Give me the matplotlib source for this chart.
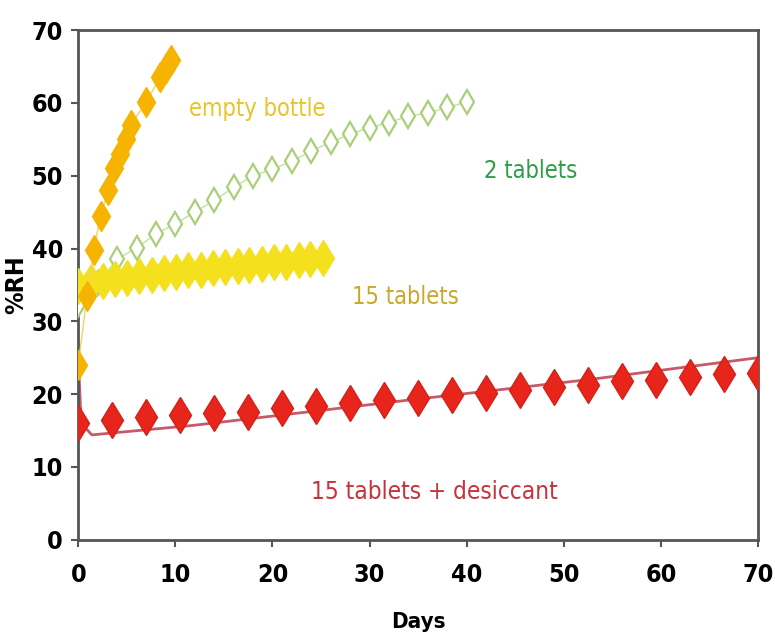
import matplotlib
matplotlib.use("Agg")
import matplotlib.pyplot as plt

plt.rcParams['font.family'] = ['DejaVu Sans']
plt.rcParams['font.stretch'] = 'condensed'

# empty bottle (orange filled diamonds)
empty_days = [0, 0.9, 1.6, 2.3, 3.1, 3.7, 4.3, 4.9, 5.4, 7.0, 8.4, 9.0, 9.5]
empty_rh = [24, 33.5, 39.8, 44.5, 48.1, 51.0, 53.0, 55.0, 57.0, 60.1, 63.5, 64.8, 65.9]

# 2 tablets (open green diamonds)
two_days = [0, 2, 4, 6, 8, 10, 12, 14, 16, 18, 20, 22, 24, 26, 28, 30, 32, 34, 36, 38, 40]
two_rh = [32.2, 35.3, 38.5, 40.1, 42.0, 43.4, 45.0, 46.6, 48.4, 50.0, 50.9, 52.0,
          53.4, 54.6, 55.7, 56.6, 57.3, 58.2, 58.6, 59.4, 60.1]

# 15 tablets (yellow filled diamonds)
t15_days = [0, 1.3, 2.5, 3.8, 5.0, 6.3, 7.6, 8.8, 10.1, 11.3, 12.6, 13.9, 15.1,
            16.4, 17.6, 18.9, 20.2, 21.4, 22.7, 23.9, 25.2]
t15_rh = [34.8, 35.4, 35.6, 35.8, 36.0, 36.2, 36.4, 36.6, 36.8, 37.0, 37.1, 37.3,
          37.4, 37.6, 37.8, 37.9, 38.1, 38.2, 38.4, 38.5, 38.7]

# 15 tablets + desiccant (red diamonds, every 3.5 days)
des_days = [0, 3.5, 7, 10.5, 14, 17.5, 21, 24.5, 28, 31.5, 35, 38.5, 42, 45.5, 49,
            52.5, 56, 59.5, 63, 66.5, 70]
des_rh = [16.0, 16.5, 16.9, 17.1, 17.4, 17.6, 18.1, 18.4, 18.8, 19.2, 19.5, 19.9,
          20.2, 20.6, 21.0, 21.3, 21.8, 22.0, 22.4, 22.7, 22.9]

# fitted curve under the red points
fit_days = [0, 0.3, 1.4, 11.8, 34.8, 52.6, 70]
fit_rh = [25.0, 16.0, 14.4, 15.7, 19.3, 22.0, 25.0]

fig = plt.figure(figsize=(7.75, 6.41), dpi=100)
ax = fig.add_axes([0.101, 0.158, 0.877, 0.795])

ax.plot(fit_days, fit_rh, color='#c65a68', lw=2, zorder=2)
ax.plot(two_days, two_rh, color='#c5e0a0', lw=1, marker='d', ms=12,
        mfc='white', mec='#a9cf7a', mew=1.6, zorder=3)
ax.plot(t15_days, t15_rh, color='#f4e01c', lw=1, marker='d', ms=18,
        mfc='#f4e01c', mec='#f4e01c', zorder=4)
ax.plot(empty_days, empty_rh, color='#f8d060', lw=1, marker='d', ms=15,
        mfc='#f6b400', mec='#f6b400', zorder=5)
ax.plot(des_days, des_rh, linestyle='none', marker='d', ms=18,
        mfc='#e8251a', mec='#d42018', zorder=6)

ax.text(18.4, 59.2, 'empty bottle', color='#e6c42a', fontsize=17, ha='center', va='center')
ax.text(46.6, 50.6, '2 tablets', color='#2e9e46', fontsize=17, ha='center', va='center')
ax.text(33.7, 33.4, '15 tablets', color='#c9a82a', fontsize=17, ha='center', va='center')
ax.text(36.7, 6.6, '15 tablets + desiccant', color='#c8323c', fontsize=17.5,
        ha='center', va='center')

ax.set_xlim(0, 70)
ax.set_ylim(0, 70)
ax.set_xticks(range(0, 71, 10))
ax.set_yticks(range(0, 71, 10))
ax.tick_params(direction='out', length=5, width=1.5, color='#555555',
               labelsize=18)
ax.tick_params(axis='x', pad=12)
ax.tick_params(axis='y', pad=6)
for lab in ax.get_xticklabels() + ax.get_yticklabels():
    lab.set_fontweight('bold')
for s in ax.spines.values():
    s.set_color('#555555')
    s.set_linewidth(2)

ax.set_xlabel('Days', fontsize=16, fontweight='bold', labelpad=18)
ax.set_ylabel('%RH', fontsize=18, fontweight='bold', labelpad=2)

fig.savefig('out.png', dpi=100)
